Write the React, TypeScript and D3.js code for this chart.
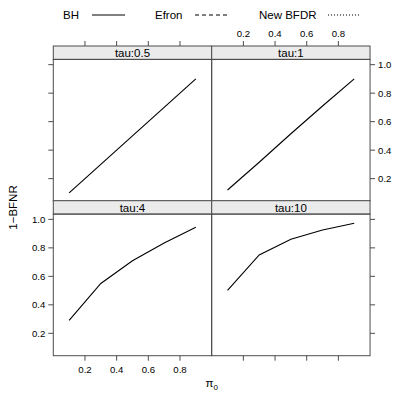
import React from "react";
import * as d3 from "d3";

const pi0 = [0.1, 0.3, 0.5, 0.7, 0.9];
const panels = ["tau:0.5", "tau:1", "tau:4", "tau:10"];
const bhTau05 = [0.1, 0.3, 0.5, 0.7, 0.9];
const bhTau1 = [0.12, 0.315, 0.515, 0.71, 0.9];
const bhTau4 = [0.291, 0.55, 0.71, 0.834, 0.944];
const bhTau10 = [0.502, 0.75, 0.86, 0.926, 0.973];
const xTicks = [0.2, 0.4, 0.6, 0.8];
const yTicks = [0.2, 0.4, 0.6, 0.8, 1.0];
const legendNames = ["BH", "Efron", "New BFDR"];
const legendDash = ["", "4,3", "1,2"];

const series = [bhTau05, bhTau1, bhTau4, bhTau10];

export default function App() {
  const W = 395, H = 396;
  const colX = [53.3, 211.7];
  const pw = 158.35;
  const stripTop = [46, 200.7];
  const stripH = 13.4;
  const ph = 141.6;
  const font = "'Liberation Sans', Arial, Helvetica, sans-serif";
  const border = "#4d4d4d";
  const tickLen = 5;

  const fmt = (v: number) => v.toFixed(1);

  const panelEls = panels.map((name, i) => {
    const col = i % 2;
    const row = Math.floor(i / 2);
    const x0 = colX[col];
    const sTop = stripTop[row];
    const y0 = sTop + stripH;
    const xs = d3.scaleLinear().domain([0, 1]).range([x0, x0 + pw]);
    const ys = d3.scaleLinear().domain([0.043, 1.037]).range([y0 + ph, y0]);
    const line = d3
      .line<number>()
      .x((_, k) => xs(pi0[k]))
      .y((d) => ys(d));
    const els: React.ReactNode[] = [];
    els.push(
      <rect key="s" x={x0} y={sTop} width={pw} height={stripH} fill="#ebebeb" stroke={border} strokeWidth={1} />
    );
    els.push(
      <text key="st" x={x0 + pw / 2} y={sTop + stripH - 2.6} textAnchor="middle" fontSize={11.5} fontFamily={font} fill="#000">
        {name}
      </text>
    );
    els.push(<path key="l" d={line(series[i]) || ""} fill="none" stroke="#000" strokeWidth={1.1} />);
    els.push(<rect key="b" x={x0} y={y0} width={pw} height={ph} fill="none" stroke={border} strokeWidth={1} />);
    xTicks.forEach((t) => {
      const x = xs(t);
      if (row === 1) {
        els.push(<line key={"xb" + t} x1={x} x2={x} y1={y0 + ph} y2={y0 + ph + tickLen} stroke={border} />);
        if (col === 0)
          els.push(
            <text key={"xbl" + t} x={x} y={y0 + ph + 17} textAnchor="middle" fontSize={9.6} fontFamily={font} fill="#000">
              {fmt(t)}
            </text>
          );
      } else {
        els.push(<line key={"xt" + t} x1={x} x2={x} y1={sTop} y2={sTop - tickLen} stroke={border} />);
        if (col === 1)
          els.push(
            <text key={"xtl" + t} x={x} y={sTop - 9} textAnchor="middle" fontSize={9.6} fontFamily={font} fill="#000">
              {fmt(t)}
            </text>
          );
      }
    });
    yTicks.forEach((t) => {
      const y = ys(t);
      if (col === 0) {
        els.push(<line key={"yl" + t} x1={x0} x2={x0 - tickLen} y1={y} y2={y} stroke={border} />);
        if (row === 1)
          els.push(
            <text key={"yll" + t} x={x0 - 8} y={y + 3.4} textAnchor="end" fontSize={9.6} fontFamily={font} fill="#000">
              {fmt(t)}
            </text>
          );
      } else {
        els.push(<line key={"yr" + t} x1={x0 + pw} x2={x0 + pw + tickLen} y1={y} y2={y} stroke={border} />);
        if (row === 0)
          els.push(
            <text key={"yrl" + t} x={x0 + pw + 8} y={y + 3.4} textAnchor="start" fontSize={9.6} fontFamily={font} fill="#000">
              {fmt(t)}
            </text>
          );
      }
    });
    return <g key={name}>{els}</g>;
  });

  const legendX = [63, 155, 259];
  const legendLineX = [92, 195, 328];

  return (
    <div style={{ position: "fixed", left: 0, top: 0, width: W, height: H, overflow: "hidden" }}>
      <svg width={W} height={H} style={{ display: "block", background: "#fff" }}>
        <rect width={W} height={H} fill="#fff" />
        {legendNames.map((n, i) => (
          <g key={n}>
            <text x={legendX[i]} y={19} fontSize={11.5} fontFamily={font} fill="#000">
              {n}
            </text>
            <line
              x1={legendLineX[i]}
              x2={legendLineX[i] + 33}
              y1={15}
              y2={15}
              stroke="#000"
              strokeWidth={1}
              strokeDasharray={legendDash[i] || undefined}
            />
          </g>
        ))}
        {panelEls}
        <text
          transform="translate(17,207.5) rotate(-90)"
          textAnchor="middle"
          fontSize={11.5}
          fontFamily={font}
          fill="#000"
        >
          1−BFNR
        </text>
        <text x={211.7} y={387} textAnchor="middle" fontSize={11.5} fontFamily={font} fill="#000">
          π<tspan fontSize={8} dy={3}>0</tspan>
        </text>
      </svg>
    </div>
  );
}
